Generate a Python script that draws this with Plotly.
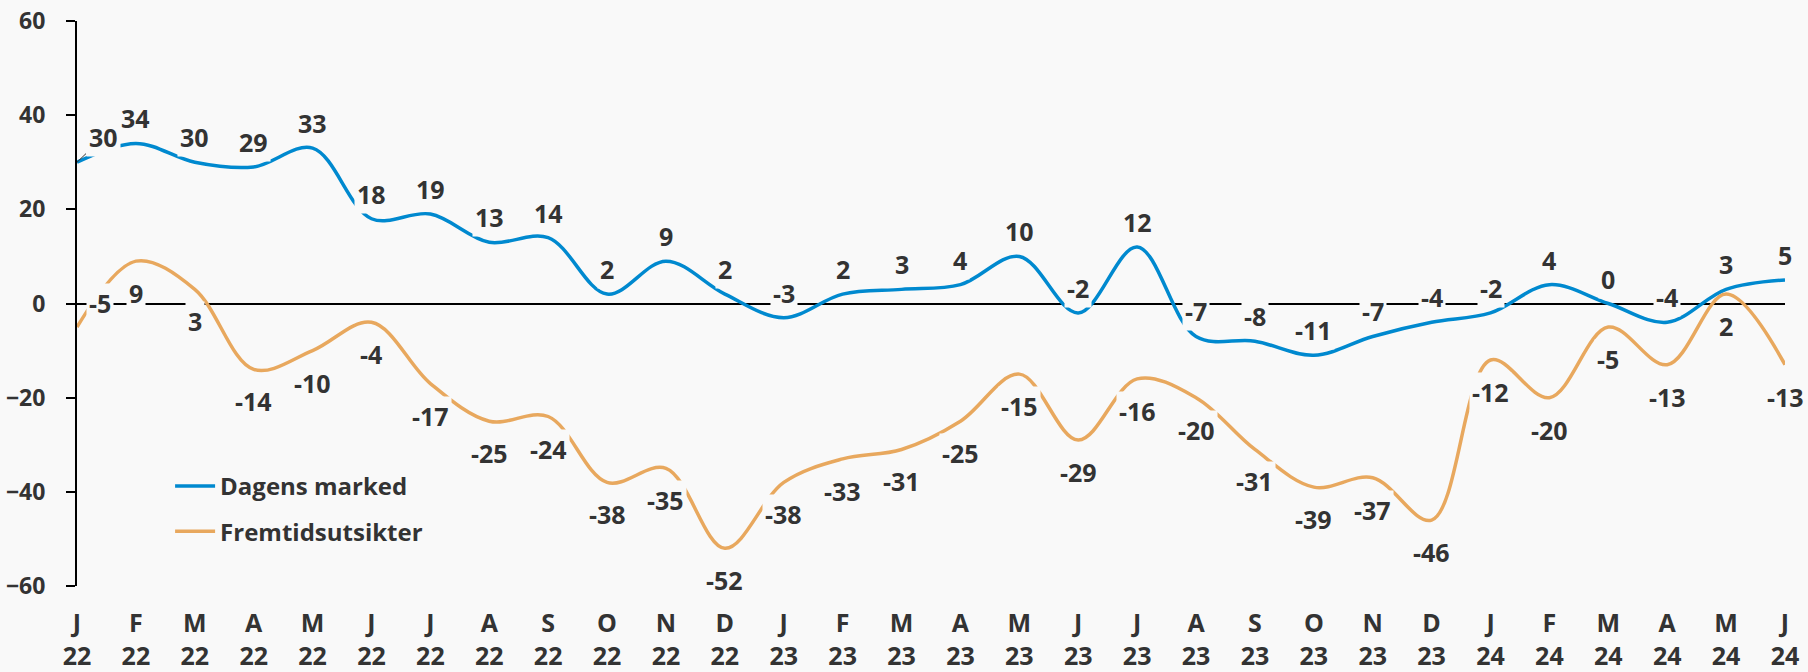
import plotly.graph_objects as go

months = ["Jan 22", "Feb 22", "Mar 22", "Apr 22", "May 22", "Jun 22", "Jul 22", "Aug 22", "Sep 22", "Oct 22",
          "Nov 22", "Dec 22", "Jan 23", "Feb 23", "Mar 23", "Apr 23", "May 23", "Jun 23", "Jul 23", "Aug 23",
          "Sep 23", "Oct 23", "Nov 23", "Dec 23", "Jan 24", "Feb 24", "Mar 24", "Apr 24", "May 24", "Jun 24"]
tick_labels = ["J<br>22", "F<br>22", "M<br>22", "A<br>22", "M<br>22", "J<br>22", "J<br>22", "A<br>22", "S<br>22", "O<br>22",
               "N<br>22", "D<br>22", "J<br>23", "F<br>23", "M<br>23", "A<br>23", "M<br>23", "J<br>23", "J<br>23", "A<br>23",
               "S<br>23", "O<br>23", "N<br>23", "D<br>23", "J<br>24", "F<br>24", "M<br>24", "A<br>24", "M<br>24", "J<br>24"]
dagens = [30, 34, 30, 29, 33, 18, 19, 13, 14, 2, 9, 2, -3, 2, 3, 4, 10, -2, 12, -7, -8, -11, -7, -4, -2, 4, 0, -4, 3, 5]
fremtid = [-5, 9, 3, -14, -10, -4, -17, -25, -24, -38, -35, -52, -38, -33, -31, -25, -15, -29, -16, -20, -31, -39, -37,
           -46, -12, -20, -5, -13, 2, -13]

BLUE = "#0089CF"
ORANGE = "#E8A85E"
TXT = "#333333"
BG = "#F9F9F9"
FONT = "Open Sans"

fig = go.Figure()
fig.add_trace(go.Scatter(x=months, y=dagens, mode="lines", name="Dagens marked",
                         line=dict(color=BLUE, width=3.5, shape="spline", smoothing=1.0),
                         legendgroup="a"))
fig.add_trace(go.Scatter(x=months, y=fremtid, mode="lines", name="Fremtidsutsikter",
                         line=dict(color=ORANGE, width=3.5, shape="spline", smoothing=1.0),
                         legendgroup="b"))

ann = []
lab_font = dict(family=FONT, size=25, color=TXT, weight="bold")
for i, (m, v) in enumerate(zip(months, dagens)):
    if i == 0:
        ann.append(dict(x=m, y=v, text=str(v), showarrow=True, ax=26, ay=-25, arrowhead=0,
                        arrowwidth=1, arrowcolor=TXT, font=lab_font, bgcolor=BG, borderpad=2))
    else:
        ann.append(dict(x=m, y=v, text=str(v), showarrow=False, yshift=25,
                        font=lab_font, bgcolor=BG, borderpad=2))
for i, (m, v) in enumerate(zip(months, fremtid)):
    if i == 0:
        ann.append(dict(x=m, y=v, text=str(v), showarrow=False, xshift=23, yshift=24,
                        font=lab_font, bgcolor=BG, borderpad=2))
    else:
        ann.append(dict(x=m, y=v, text=str(v), showarrow=False, yshift=-32,
                        font=lab_font, bgcolor=BG, borderpad=2))

fig.update_layout(
    width=1808, height=672,
    margin=dict(l=77, r=23, t=21, b=86, autoexpand=False),
    paper_bgcolor=BG, plot_bgcolor=BG,
    font=dict(family=FONT, color=TXT, weight="bold"),
    annotations=ann,
    showlegend=True,
    legend=dict(x=0.0545, y=0.216, xanchor="left", yanchor="top",
                font=dict(family=FONT, size=24, color=TXT, weight="bold"),
                bgcolor="rgba(0,0,0,0)", tracegroupgap=11, itemwidth=40),
    xaxis=dict(type="category", range=[0, len(months) - 1], tickvals=months, ticktext=tick_labels,
               showgrid=False, zeroline=False, showline=False, ticks="", automargin=False,
               ticklabelstandoff=20,
               tickfont=dict(family=FONT, size=25, color=TXT, weight="bold")),
    yaxis=dict(range=[-60, 60], tickvals=[-60, -40, -20, 0, 20, 40, 60], showgrid=False,
               zeroline=True, zerolinecolor="#000000", zerolinewidth=1.5,
               showline=True, linecolor="#000000", linewidth=2, automargin=False,
               ticks="outside", ticklen=9, tickwidth=1.5, tickcolor="#000000",
               ticklabelstandoff=16,
               tickfont=dict(family=FONT, size=23, color=TXT, weight="bold")),
)

fig.write_html("out.html", config={"displayModeBar": False},
               post_script="document.body.style.margin='0';document.body.style.background='#F9F9F9';")
